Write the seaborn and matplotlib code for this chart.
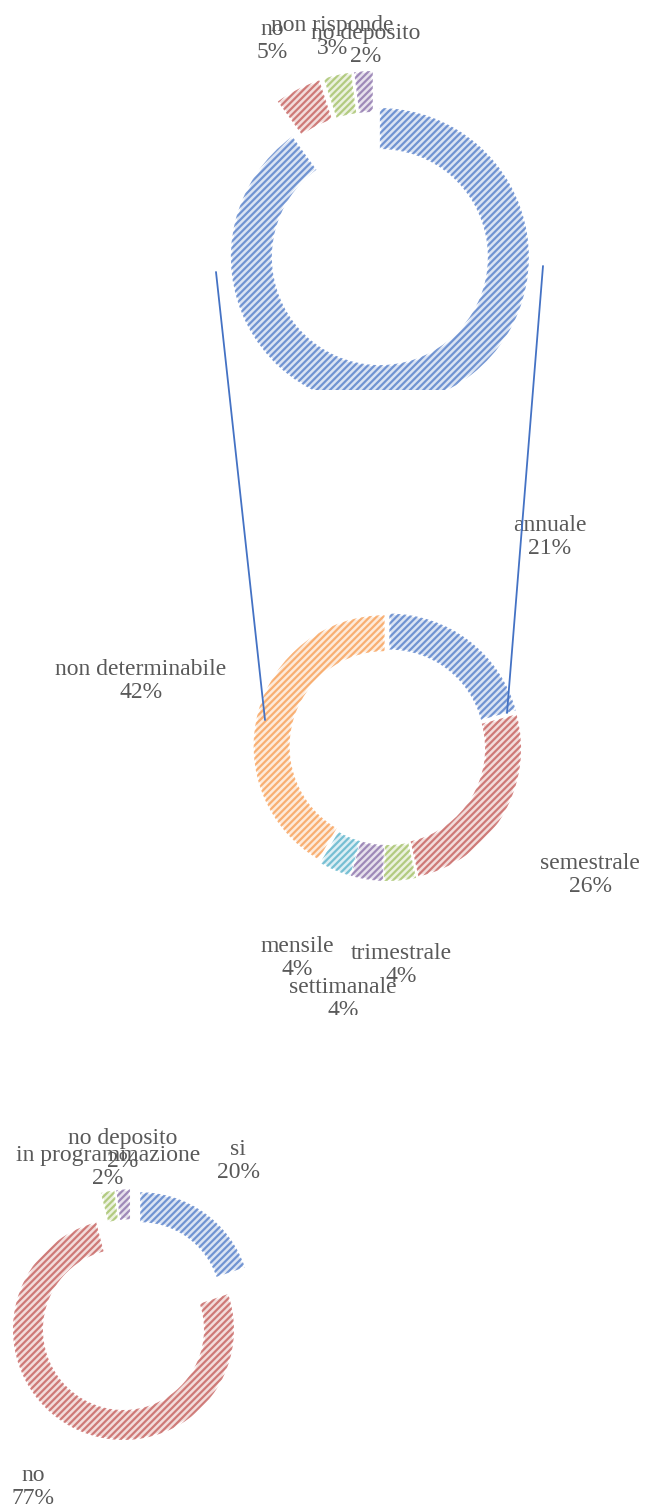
import numpy as np
import matplotlib
matplotlib.use("Agg")
import matplotlib.pyplot as plt
import seaborn as sns

# -----------------------------
# Data
# -----------------------------
top_labels = ["si", "no", "non risponde", "no deposito"]
top_values = [90, 5, 3, 2]

mid_labels = ["annuale", "semestrale", "trimestrale", "settimanale", "mensile", "non determinabile"]
mid_values = [21, 26, 4, 4, 4, 42]

bot_labels = ["si", "no", "in programmazione", "no deposito"]
bot_values = [20, 77, 2, 2]

# -----------------------------
# Layout (pixel coordinates of the 646x1512 image, y going down)
# -----------------------------
W, H = 646, 1512
TEXT = "#595959"
office = sns.color_palette(["#4472C4", "#C0504D", "#9BBB59", "#8064A2", "#4BACC6", "#F79646"])

top_label_pos = [None, (272, 41), (332, 37), (366, 45)]
mid_label_pos = [(550, 537), (590, 875), (401, 965), (343, 999), (297, 958), (141, 681)]
bot_label_pos = [(238, 1161), (33, 1487), (108, 1167), (123, 1150)]

sns.set_theme(style="white")
plt.rcParams["font.family"] = ["Liberation Serif", "DejaVu Serif"]
plt.rcParams["hatch.linewidth"] = 1.6

fig = plt.figure(figsize=(W / 100, H / 100), dpi=100)


def band_axes(y0, y1):
    ax = fig.add_axes([0, 1 - y1 / H, 1, (y1 - y0) / H])
    return ax


def tint(c, k=0.8):
    return tuple(np.array(c) * (1 - k) + k)


def donut(ax, values, labels, colors, center, radius, width, explode, label_pos, band):
    cx, cy = center
    common = dict(startangle=90, counterclock=False, radius=radius,
                  center=(cx, -cy), explode=[explode] * len(values))
    # light fill with white outline
    ax.pie(values, colors=[tint(c) for c in colors],
           wedgeprops=dict(width=width, edgecolor="white", linewidth=2, clip_on=True), **common)
    # diagonal pattern on top
    wedges, _ = ax.pie(values, colors=["none"] * len(values), hatch="/////",
                       wedgeprops=dict(width=width, linewidth=0, clip_on=True), **common)
    for w, c in zip(wedges, colors):
        w.set_facecolor("none")
        w.set_edgecolor((*c, 0.7))
    for lab, val, pos in zip(labels, values, label_pos):
        if pos is None:
            continue
        ax.text(pos[0], -pos[1], f"{lab}\n{val}%", ha="center", va="center",
                fontsize=17, color=TEXT, linespacing=1.1, clip_on=True)
    ax.set_xlim(0, W)
    ax.set_ylim(-band[1], -band[0])
    ax.set_aspect("auto")
    ax.axis("off")


ax_top = band_axes(0, 390)
donut(ax_top, top_values, top_labels, office[:4], (374, 239), 149, 41, 19, top_label_pos, (0, 390))

ax_mid = band_axes(390, 1015)
donut(ax_mid, mid_values, mid_labels, office[:6], (387.5, 747), 131, 36, 3, mid_label_pos, (390, 1015))

ax_bot = band_axes(1015, H)
donut(ax_bot, bot_values, bot_labels, office[:4], (131, 1315.6), 110.5, 30, 15.8, bot_label_pos, (1015, H))

# connector lines between the first and the second ring
ax_lines = fig.add_axes([0, 0, 1, 1])
ax_lines.set_xlim(0, W)
ax_lines.set_ylim(-H, 0)
ax_lines.axis("off")
ax_lines.patch.set_visible(False)
for (x0, y0), (x1, y1) in [((216, 272), (265, 720)), ((543, 266), (507, 713))]:
    ax_lines.plot([x0, x1], [-y0, -y1], color="#4472C4", lw=1.3)

fig.savefig("out.png", dpi=100)
